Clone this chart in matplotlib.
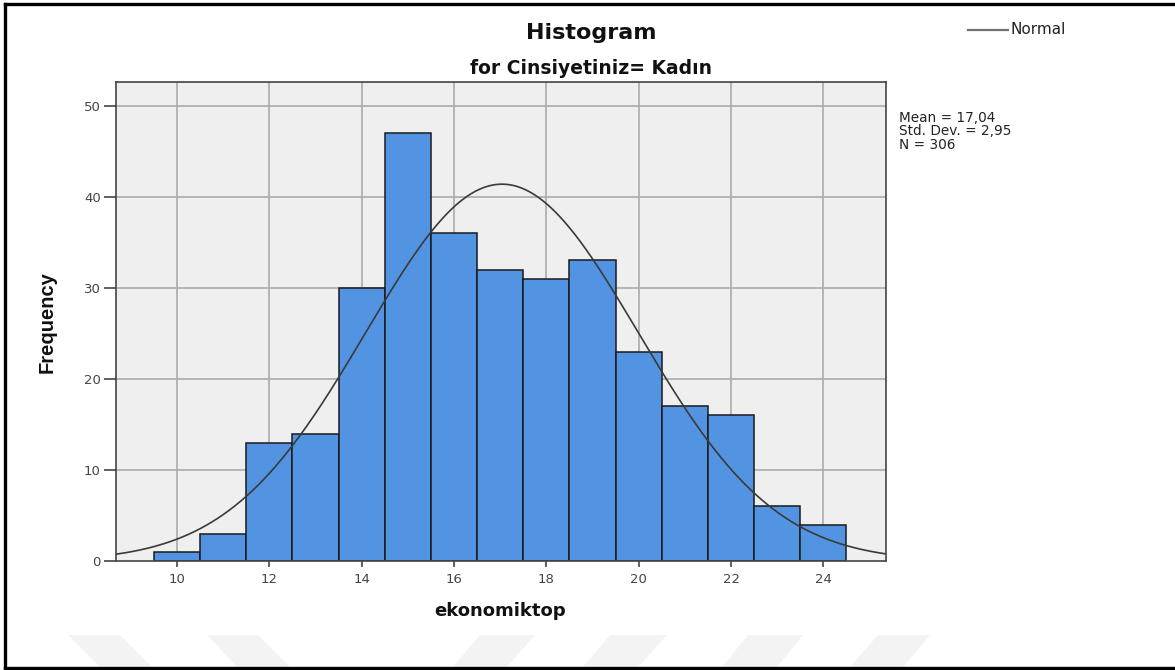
import numpy as np
import matplotlib
matplotlib.use("Agg")
import matplotlib.pyplot as plt
from matplotlib.patches import Polygon
from matplotlib.lines import Line2D

# ---- data ----
bin_centers = [10, 11, 12, 13, 14, 15, 16, 17, 18, 19, 20, 21, 22, 23, 24]
counts = [1, 3, 13, 14, 30, 47, 36, 32, 31, 33, 23, 17, 16, 6, 4]
mean_val = 17.04
std_val = 2.95
n_val = 306
x_ticks = [10, 12, 14, 16, 18, 20, 22, 24]
y_ticks = [0, 10, 20, 30, 40, 50]
title = "Histogram"
subtitle = "for Cinsiyetiniz= Kadın"
x_label = "ekonomiktop"
y_label = "Frequency"
stats_text = "Mean = 17,04\nStd. Dev. = 2,95\nN = 306"
legend_label = "Normal"

W, H = 1175, 670
fig = plt.figure(figsize=(W / 100, H / 100), dpi=100)
fig.patch.set_facecolor("white")

def fx(px):
    return px / W

def fy(py):
    return 1 - py / H

# watermark stripes (faint)
stripes = [
    [(68, 635), (120, 635), (152, 667), (100, 667)],
    [(207, 635), (258, 635), (290, 667), (237, 667)],
    [(480, 635), (535, 635), (507, 667), (453, 667)],
    [(610, 635), (667, 635), (638, 667), (583, 667)],
    [(748, 635), (803, 635), (777, 667), (722, 667)],
    [(878, 635), (930, 635), (903, 667), (850, 667)],
]
for s in stripes:
    fig.patches.append(Polygon([(fx(a), fy(b)) for a, b in s], closed=True,
                               transform=fig.transFigure, facecolor="#f3f3f3",
                               edgecolor="none", zorder=0))

# outer border (left, top, bottom)
for xs_, ys_ in [([5, 5], [4, 668]), ([5, 1175], [4, 4]), ([5, 1175], [668, 668])]:
    fig.lines.append(Line2D([fx(v) for v in xs_], [fy(v) for v in ys_],
                            transform=fig.transFigure, color="black",
                            linewidth=2.4, zorder=10))

ax = fig.add_axes([fx(115.5), fy(561), fx(885.7) - fx(115.5), fy(82) - fy(561)])
ax.set_facecolor("#efefef")
ax.set_xlim(8.67, 25.35)
ax.set_ylim(0, 52.6)

ax.set_axisbelow(True)
for xv in x_ticks:
    ax.axvline(xv, color="#ababab", linewidth=1.2, zorder=0.5)
for yv in y_ticks[1:]:
    ax.axhline(yv, color="#ababab", linewidth=1.2, zorder=0.5)

ax.bar(bin_centers, counts, width=1.0, color="#5294e2", edgecolor="#1a1a1a",
       linewidth=1.1, zorder=2)

xs = np.linspace(8.67, 25.35, 400)
ys = n_val * 1.0 * np.exp(-0.5 * ((xs - mean_val) / std_val) ** 2) / (std_val * np.sqrt(2 * np.pi))
ax.plot(xs, ys, color="#3a3a3a", linewidth=1.2, zorder=3)

for sp in ax.spines.values():
    sp.set_color("#444444")
    sp.set_linewidth(1.2)

ax.set_xticks(x_ticks)
ax.set_yticks(y_ticks)
ax.tick_params(axis="y", length=8.6, width=1.2, color="#444444", labelcolor="#444444",
               labelsize=9.5, pad=2)
ax.tick_params(axis="x", length=4.3, width=1.2, color="#444444", labelcolor="#444444",
               labelsize=9.5, pad=4)
for lab in ax.get_xticklabels() + ax.get_yticklabels():
    lab.set_family("DejaVu Sans")

# titles
fig.text(fx(591), fy(33), title, ha="center", va="center", fontsize=16,
         fontweight="bold", family="DejaVu Sans", color="#111111")
fig.text(fx(591), fy(68), subtitle, ha="center", va="center", fontsize=13.5,
         fontweight="bold", family="DejaVu Sans", color="#111111")

# axis labels
fig.text(fx(500), fy(611), x_label, ha="center", va="center", fontsize=13,
         fontweight="bold", family="DejaVu Sans", color="#111111")
fig.text(fx(47), fy(322), y_label, ha="center", va="center", rotation=90,
         fontsize=14.5, fontweight="bold",
         family=["Liberation Sans", "DejaVu Sans"], color="#111111")

# stats
fig.text(fx(899), fy(111), stats_text, ha="left", va="top", fontsize=9.8,
         family="DejaVu Sans", color="#222222", linespacing=0.95)

# legend
fig.lines.append(Line2D([fx(968), fx(1008)], [fy(30), fy(30)], transform=fig.transFigure,
                        color="#707070", linewidth=1.6))
fig.text(fx(1010), fy(30), legend_label, ha="left", va="center", fontsize=11,
         family="DejaVu Sans", color="#222222")

fig.savefig("out.png", dpi=100, facecolor="white")
